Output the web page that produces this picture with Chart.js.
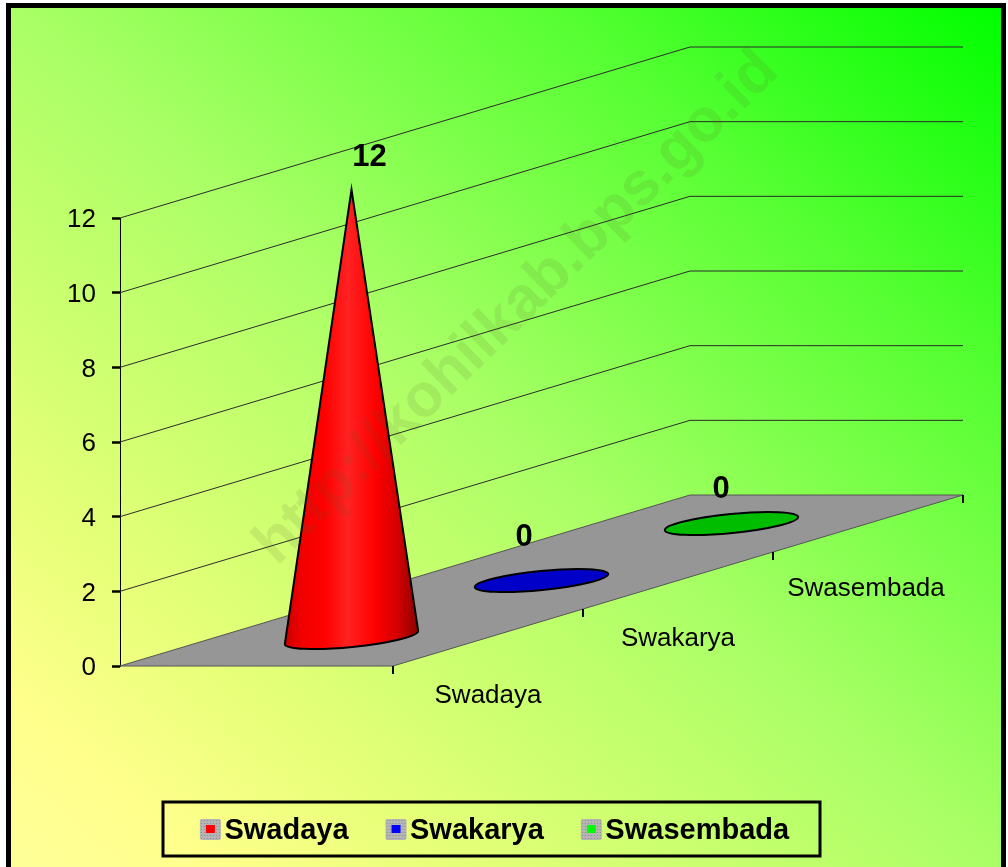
<!DOCTYPE html>
<html>
<head>
<meta charset="utf-8">
<style>html,body{margin:0;padding:0;background:#fff}canvas{display:block}</style>
<script src="https://cdn.jsdelivr.net/npm/chart.js@4/dist/chart.umd.min.js"></script>
</head>
<body>
<canvas id="c" width="1008" height="867"></canvas>
<script>
const categories = ['Swadaya', 'Swakarya', 'Swasembada'];
const values = [12, 0, 0];
const yTickStep = 2;
const yMax = 12;
const legendColors = ['#ff0000', '#0000ff', '#00ff00'];
const capColors = ['#e00000', '#0000c8', '#00bd00'];
const watermark = 'http://kohilkab.bps.go.id';

const FONT = '"Liberation Sans", Arial, sans-serif';
const floorWidth = 273;     // horizontal width of the floor
const shear = 0.3;          // vertical rise per px of depth
const ellipseRy = 9.5, ellipseTilt = -5.6 * Math.PI / 180;
const valueLabelOffset = [[18, -32], [-17.5, -43], [-10.5, -34]];
const catLabelOffset = [[0, 58], [0, 58], [-2, 65]];

const paint = {
  id: 'paint',
  afterLayout(chart) {
    const lg = chart.legend;
    lg.left = 149; lg.right = 840; lg.top = 779; lg.bottom = 888;
    lg.adjustHitBoxes();
  },
  beforeDraw(chart) {
    const c = chart.ctx, W = chart.width, H = chart.height;
    // nudge the value-axis labels onto their tick marks
    chart.scales.y.getLabelItems().forEach(it => { it.options.translation[1] = it.options.translation[1] + 2; });
    c.save();
    c.fillStyle = '#fff'; c.fillRect(0, 0, W, H);
    c.fillStyle = '#000'; c.fillRect(6, 3, 1000, 864);
    const g = c.createLinearGradient(80, 927, 932, -53);
    g.addColorStop(0, '#ffff99');
    g.addColorStop(0.1, '#ffff8c');
    g.addColorStop(0.227, '#e6ff78');
    g.addColorStop(0.5, '#aaff66');
    g.addColorStop(0.776, '#55ff32');
    g.addColorStop(1, '#00ff00');
    c.fillStyle = g; c.fillRect(11, 8, 990, 859);
    c.restore();
  },
  beforeDatasetsDraw(chart) {
    const c = chart.ctx, a = chart.chartArea, y = chart.scales.y, x = chart.scales.x;
    const d = a.right - a.left, rise = d * shear;
    c.save();
    // oblique wall gridlines
    c.strokeStyle = '#2b2b2b'; c.lineWidth = 1;
    y.ticks.forEach(t => {
      if (t.value === 0) return;
      const p = y.getPixelForValue(t.value);
      c.beginPath();
      c.moveTo(a.left, p);
      c.lineTo(a.right, p - rise);
      c.lineTo(a.right + floorWidth, p - rise);
      c.stroke();
    });
    // floor
    const b = y.getPixelForValue(0);
    c.beginPath();
    c.moveTo(a.left, b);
    c.lineTo(a.left + floorWidth, b);
    c.lineTo(a.right + floorWidth, b - rise);
    c.lineTo(a.right, b - rise);
    c.closePath();
    c.fillStyle = '#969696'; c.fill();
    c.strokeStyle = '#555'; c.stroke();
    // depth-axis tick marks
    c.strokeStyle = '#000'; c.lineWidth = 2;
    const band = d / categories.length;
    for (let i = 0; i <= categories.length; i++) {
      const tx = a.left + band * i + floorWidth;
      const ty = b - band * i * shear;
      c.beginPath(); c.moveTo(tx, ty); c.lineTo(tx, ty + 8); c.stroke();
    }
    // depth-axis category labels
    c.fillStyle = '#000'; c.font = '26px ' + FONT;
    c.textAlign = 'center'; c.textBaseline = 'middle';
    categories.forEach((name, i) => {
      const px = x.getPixelForValue(i);
      c.fillText(name, px + floorWidth + catLabelOffset[i][0],
                 b - (px - a.left) * shear + catLabelOffset[i][1]);
    });
    c.restore();
  },
  afterDatasetsDraw(chart) {
    const c = chart.ctx, a = chart.chartArea, y = chart.scales.y;
    const meta = chart.getDatasetMeta(0), b = y.getPixelForValue(0);
    c.save();
    meta.data.forEach((bar, i) => {
      const rise = (bar.x - a.left) * shear;
      const cx = bar.x + floorWidth / 2, cy = b - rise, apex = bar.y - rise;
      const rx = bar.width / 2;
      c.lineWidth = 2; c.strokeStyle = '#000';
      if (values[i] > 0) {
        const dx = rx * Math.cos(ellipseTilt), dy = rx * Math.sin(ellipseTilt);
        const g = c.createLinearGradient(cx - rx, 0, cx + rx, 0);
        g.addColorStop(0, '#c80000');
        g.addColorStop(0.12, '#f00000');
        g.addColorStop(0.3, '#ff0000');
        g.addColorStop(0.47, '#ff2222');
        g.addColorStop(0.68, '#ff0000');
        g.addColorStop(0.85, '#d00000');
        g.addColorStop(1, '#8c0000');
        c.beginPath();
        c.moveTo(cx - dx, cy - dy);
        c.lineTo(cx, apex);
        c.lineTo(cx + dx, cy + dy);
        c.ellipse(cx, cy, rx, ellipseRy, ellipseTilt, 0, Math.PI);
        c.closePath();
        c.fillStyle = g; c.fill(); c.stroke();
      } else {
        c.beginPath();
        c.ellipse(cx, cy, rx, ellipseRy, ellipseTilt, 0, Math.PI * 2);
        c.fillStyle = capColors[i]; c.fill(); c.stroke();
      }
      c.fillStyle = '#000'; c.font = 'bold 31px ' + FONT;
      c.textAlign = 'center'; c.textBaseline = 'middle';
      c.fillText(String(values[i]), cx + valueLabelOffset[i][0], apex + valueLabelOffset[i][1]);
    });
    c.restore();
  },
  afterDraw(chart) {
    const c = chart.ctx;
    c.save();
    // legend frame
    c.strokeStyle = '#000'; c.lineWidth = 3;
    c.strokeRect(163, 802, 657, 54);
    // legend markers
    chart.legend.legendHitBoxes.forEach((h, i) => {
      const mx = h.left, my = 819, s = 21;
      c.fillStyle = '#b4b4b4';
      c.beginPath(); c.roundRect(mx, my, s, s, 2); c.fill();
      c.fillStyle = '#8f8f8f';
      for (let px = mx + 1; px < mx + s - 1; px += 3)
        for (let py = my + 1; py < my + s - 1; py += 3) c.fillRect(px, py, 1, 1);
      c.fillStyle = legendColors[i];
      c.fillRect(mx + 6, my + 6, 9, 8);
    });
    // watermark
    c.translate(517, 308);
    c.rotate(-44.4 * Math.PI / 180);
    c.font = 'bold 61px ' + FONT;
    c.textAlign = 'center'; c.textBaseline = 'middle';
    c.fillStyle = 'rgba(90,90,40,0.12)';
    c.fillText(watermark, 0, 0);
    c.restore();
  }
};

new Chart(document.getElementById('c'), {
  type: 'bar',
  data: {
    labels: categories,
    datasets: [{
      label: 'Jumlah',
      data: values,
      backgroundColor: 'rgba(0,0,0,0)',
      borderWidth: 0,
      barPercentage: 0.705,
      categoryPercentage: 1
    }]
  },
  options: {
    responsive: false,
    animation: false,
    layout: { padding: { left: 0, right: 318, top: 218, bottom: 125 } },
    scales: {
      x: { display: false },
      y: {
        min: 0, max: yMax,
        afterFit(s) { s.width = 120; },
        ticks: { stepSize: yTickStep, color: '#000', padding: 16,
                 font: { family: FONT, size: 26 } },
        grid: { drawOnChartArea: false, color: '#000', tickLength: 8, tickWidth: 2.5 },
        border: { display: true, color: '#000', width: 1 }
      }
    },
    plugins: {
      tooltip: { enabled: false },
      legend: {
        display: true,
        position: 'bottom',
        onClick: null,
        labels: {
          color: '#000',
          boxWidth: 10, boxHeight: 10, padding: 37,
          font: { family: FONT, size: 29, weight: 'bold' },
          generateLabels: () => categories.map((t, i) => ({
            text: t, fillStyle: 'rgba(0,0,0,0)', strokeStyle: 'rgba(0,0,0,0)',
            lineWidth: 0, index: i, hidden: false, fontColor: '#000'
          }))
        }
      }
    }
  },
  plugins: [paint]
});
</script>
</body>
</html>
